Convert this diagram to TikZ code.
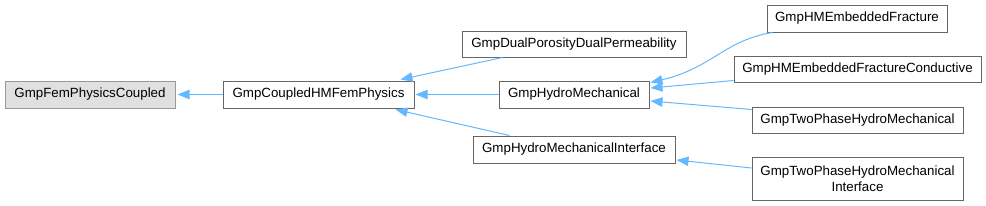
\documentclass[tikz,border=0pt]{standalone}
\usepackage{fontspec}
\setmainfont{Liberation Sans}
\usetikzlibrary{arrows.meta,calc}
\definecolor{edgeblue}{HTML}{63B8FF}
\definecolor{boxline}{HTML}{666666}
\definecolor{rootline}{HTML}{999999}
\definecolor{rootfill}{HTML}{E0E0E0}
\begin{document}
\begin{tikzpicture}[x=0.75pt,y=-0.75pt,
  cls/.style={draw=boxline,line width=0.75pt,fill=white,inner sep=0pt,align=center,font=\fontsize{10}{12}\selectfont},
  root/.style={cls,draw=rootline,fill=rootfill},
  edge/.style={draw=edgeblue,line width=0.75pt,-{Triangle[length=9pt,width=7pt,fill=edgeblue]}}]
\useasboundingbox (0,0) rectangle (986,205);
\node[root,minimum width=170*0.75pt,minimum height=27*0.75pt] (fem) at (90,94.5) {GmpFemPhysicsCoupled};
\node[cls,minimum width=191*0.75pt,minimum height=27*0.75pt] (chm) at (318.5,94.5) {GmpCoupledHMFemPhysics};
\node[cls,minimum width=224*0.75pt,minimum height=26*0.75pt] (dual) at (574,44) {GmpDualPorosityDualPermeability};
\node[cls,minimum width=150*0.75pt,minimum height=27*0.75pt] (hm) at (574,94.5) {GmpHydroMechanical};
\node[cls,minimum width=202*0.75pt,minimum height=27*0.75pt] (hmi) at (574,149.5) {GmpHydroMechanicalInterface};
\node[cls,minimum width=180*0.75pt,minimum height=27*0.75pt] (emb) at (857,18.5) {GmpHMEmbeddedFracture};
\node[cls,minimum width=247*0.75pt,minimum height=26*0.75pt] (cond) at (857.5,69) {GmpHMEmbeddedFractureConductive};
\node[cls,minimum width=211*0.75pt,minimum height=26*0.75pt] (tp) at (857.5,120) {GmpTwoPhaseHydroMechanical};
\node[cls,minimum width=211*0.75pt,minimum height=43*0.75pt] (tpi) at (857.5,178.5) {GmpTwoPhaseHydroMechanical\\Interface};

\draw[edge] (chm.west) -- ($(fem.east)+(2,0)$);
\draw[edge] ($(dual.south west)+(41,0)$) -- ($(chm.north east)+(-14,-1)$);
\draw[edge] (hm.west) -- ($(chm.east)+(1,0)$);
\draw[edge] ($(hmi.north west)+(37,0)$) -- ($(chm.south east)+(-19,1)$);
\draw[edge] ($(emb.south west)+(6,0)$) .. controls (725,40) and (712,68) .. ($(hm.north east)+(1,2)$);
\draw[edge] ($(cond.south west)+(0,-2)$) -- ($(hm.east)+(1,-6.5)$);
\draw[edge] ($(tp.north west)+(0,3)$) -- ($(hm.east)+(1,6.5)$);
\draw[edge] ($(tpi.west)+(0,-10.5)$) -- ($(hmi.east)+(1,10.5)$);
\end{tikzpicture}
\end{document}
